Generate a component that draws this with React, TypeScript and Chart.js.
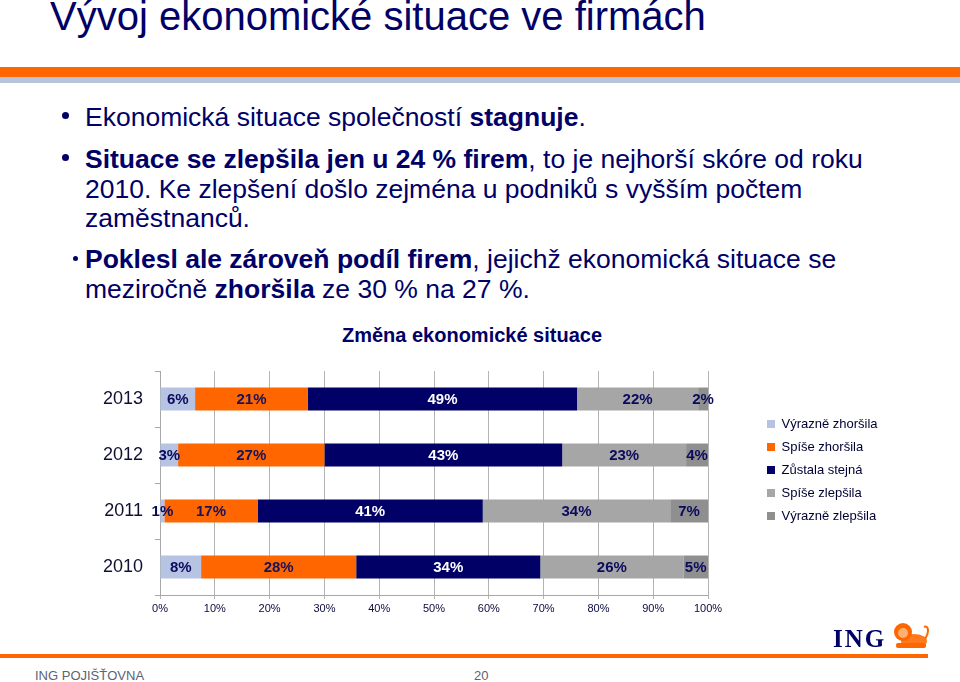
import React, { useEffect, useRef } from 'react';
import { Chart, registerables } from 'chart.js';

Chart.register(...registerables);

// ---- data ----
const years = ['2013', '2012', '2011', '2010'];
const seriesNames = ['Výrazně zhoršila', 'Spíše zhoršila', 'Zůstala stejná', 'Spíše zlepšila', 'Výrazně zlepšila'];
const vyrazneZhorsila = [6.4, 3.3, 0.8, 7.5];
const spiseZhorsila = [20.6, 26.7, 17.0, 28.3];
const zustalaStejna = [49.1, 43.4, 41.1, 33.6];
const spiseZlepsila = [22.1, 22.6, 34.2, 26.1];
const vyrazneZlepsila = [1.8, 4.0, 6.9, 4.5];
const xTickValues = [0, 10, 20, 30, 40, 50, 60, 70, 80, 90, 100];

const seriesColors = ['#B6C3E3', '#FF6600', '#000066', '#A6A6A6', '#8F8F8F'];
const labelColors = ['#0A0A5E', '#14145A', '#FFFFFF', '#0A0A5E', '#0A0A5E'];
const NAVY = '#000066';
const FONT = 'Arial, "Liberation Sans", sans-serif';

const segLabels = {
  id: 'segLabels',
  afterDatasetsDraw(chart: any) {
    const { ctx } = chart;
    ctx.save();
    ctx.font = `bold 15px ${FONT}`;
    ctx.textAlign = 'center';
    ctx.textBaseline = 'middle';
    chart.data.datasets.forEach((ds: any, i: number) => {
      const meta = chart.getDatasetMeta(i);
      meta.data.forEach((el: any, j: number) => {
        const p = el.getCenterPoint();
        ctx.fillStyle = labelColors[i];
        ctx.fillText(Math.round(ds.data[j]) + '%', p.x, p.y + 1);
      });
    });
    ctx.restore();
  },
};

const legendPlace = {
  id: 'legendPlace',
  afterLayout(chart: any) {
    const lg = chart.legend;
    if (!lg) return;
    lg.left = 757;
    lg.right = 960;
    lg.top = 67.5;
    lg.bottom = 300;
    lg.width = lg.right - lg.left;
    lg.height = lg.bottom - lg.top;
  },
};

function ChartBox() {
  const ref = useRef<HTMLCanvasElement | null>(null);
  useEffect(() => {
    if (!ref.current) return;
    const seriesData = [vyrazneZhorsila, spiseZhorsila, zustalaStejna, spiseZlepsila, vyrazneZlepsila];
    const chart = new Chart(ref.current, {
      type: 'bar',
      data: {
        labels: years,
        datasets: seriesNames.map((name, i) => ({
          label: name,
          data: seriesData[i],
          backgroundColor: seriesColors[i],
          borderWidth: 0,
          barPercentage: 0.41,
          categoryPercentage: 1,
        })),
      },
      options: {
        indexAxis: 'y',
        responsive: false,
        animation: false,
        layout: { padding: { left: 100, right: 252, top: 31, bottom: 10 } },
        plugins: {
          legend: {
            position: 'chartArea' as any,
            align: 'start',
            labels: {
              boxWidth: 8,
              boxHeight: 8,
              padding: 10,
              color: '#000033',
              font: { size: 13, family: FONT },
            },
          },
          tooltip: { enabled: false },
          title: { display: false },
        },
        scales: {
          x: {
            stacked: true,
            min: 0,
            max: 100,
            afterBuildTicks: (scale: any) => {
              scale.ticks = xTickValues.map((v) => ({ value: v }));
            },
            afterFit: (scale: any) => {
              scale.height = 35;
            },
            grid: { color: '#B4B4B4', lineWidth: 1, drawTicks: true, tickLength: 4 },
            border: { display: true, color: '#A8A8A8' },
            ticks: {
              padding: 3,
              color: '#0A0A3C',
              font: { size: 11, family: FONT },
              callback: (v: any) => v + '%',
            },
          },
          y: {
            stacked: true,
            afterFit: (scale: any) => {
              scale.width = 60;
            },
            grid: { display: true, drawOnChartArea: false, drawTicks: true, tickLength: 5, color: '#A8A8A8' },
            border: { display: true, color: '#A8A8A8' },
            ticks: {
              padding: 12,
              color: '#101030',
              font: { size: 18, family: FONT },
            },
          },
        },
      },
      plugins: [segLabels, legendPlace],
    });
    return () => chart.destroy();
  }, []);
  return (
    <canvas
      ref={ref}
      width={960}
      height={300}
      style={{ position: 'absolute', left: 0, top: 340, width: 960, height: 300 }}
    />
  );
}

function Dot({ x, y, d }: { x: number; y: number; d: number }) {
  return (
    <div
      style={{
        position: 'absolute',
        left: x,
        top: y,
        width: d,
        height: d,
        borderRadius: '50%',
        background: NAVY,
      }}
    />
  );
}

export default function App() {
  const para: React.CSSProperties = {
    position: 'absolute',
    left: 85,
    fontSize: 26.5,
    lineHeight: '29.5px',
    color: NAVY,
    whiteSpace: 'nowrap',
  };
  return (
    <div
      style={{
        position: 'fixed',
        left: 0,
        top: 0,
        width: 960,
        height: 682,
        background: '#FFFFFF',
        overflow: 'hidden',
        fontFamily: FONT,
      }}
    >
      <div
        style={{
          position: 'absolute',
          left: 50,
          top: -4,
          fontSize: 40,
          lineHeight: '40px',
          color: NAVY,
          whiteSpace: 'nowrap',
        }}
      >
        Vývoj ekonomické situace ve firmách
      </div>
      <div style={{ position: 'absolute', left: 0, top: 67, width: 960, height: 10, background: '#FF6600' }} />
      <div style={{ position: 'absolute', left: 0, top: 77, width: 960, height: 6, background: '#B8C4DA' }} />

      <Dot x={62} y={112} d={7} />
      <div style={{ ...para, top: 103 }}>
        Ekonomická situace společností <b>stagnuje</b>.
      </div>
      <Dot x={62} y={154} d={7} />
      <div style={{ ...para, top: 145 }}>
        <b>Situace se zlepšila jen u 24 % firem</b>, to je nejhorší skóre od roku
        <br />
        2010. Ke zlepšení došlo zejména u podniků s vyšším počtem
        <br />
        zaměstnanců.
      </div>
      <Dot x={73} y={256} d={5} />
      <div style={{ ...para, top: 245 }}>
        <b>Poklesl ale zároveň podíl firem</b>, jejichž ekonomická situace se
        <br />
        meziročně <b>zhoršila</b> ze 30 % na 27 %.
      </div>

      <div
        style={{
          position: 'absolute',
          left: 272,
          width: 400,
          top: 325,
          textAlign: 'center',
          fontSize: 20,
          lineHeight: '20px',
          fontWeight: 'bold',
          color: NAVY,
        }}
      >
        Změna ekonomické situace
      </div>

      <ChartBox />

      <div
        style={{
          position: 'absolute',
          left: 833,
          top: 626,
          fontFamily: '"Liberation Serif", "DejaVu Serif", serif',
          fontWeight: 'bold',
          fontSize: 25,
          lineHeight: '25px',
          letterSpacing: 2,
          color: NAVY,
        }}
      >
        ING
      </div>
      <svg style={{ position: 'absolute', left: 892, top: 621 }} width={38} height={29} viewBox="0 0 38 29">
        <ellipse cx="22" cy="20" rx="13" ry="7" fill="#FF7A1A" />
        <circle cx="11" cy="11" r="9" fill="#FF6600" />
        <circle cx="11" cy="12" r="5" fill="#FFB070" />
        <path d="M33 18 C38 10 36 4 32 6" stroke="#FF6600" strokeWidth="2" fill="none" />
        <rect x="4" y="22" width="30" height="5" rx="2" fill="#FF6600" />
      </svg>
      <div style={{ position: 'absolute', left: 0, top: 654, width: 928, height: 4, background: '#FF6600' }} />
      <div
        style={{
          position: 'absolute',
          left: 35,
          top: 669,
          fontSize: 13,
          lineHeight: '13px',
          color: '#5A6378',
          whiteSpace: 'nowrap',
        }}
      >
        ING POJIŠŤOVNA
      </div>
      <div
        style={{
          position: 'absolute',
          left: 474,
          top: 669,
          fontSize: 13,
          lineHeight: '13px',
          color: '#5A6378',
        }}
      >
        20
      </div>
    </div>
  );
}
